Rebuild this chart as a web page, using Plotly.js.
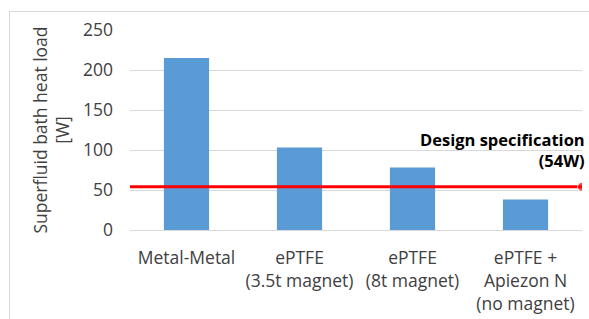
<!DOCTYPE html>
<html><head><meta charset="utf-8">
<script src="https://cdn.plot.ly/plotly-3.0.1.min.js"></script>
<style>html,body{margin:0;padding:0;background:#fff;overflow:hidden;}
#frame{position:absolute;left:9px;top:11px;width:590px;height:320px;border:1px solid #d9d9d9;box-sizing:border-box;}
#chart{position:absolute;left:0;top:0;width:589px;height:319px;}</style>
</head><body><div id="frame"></div><div id="chart"></div>
<script>
const categories = ["Metal-Metal", "ePTFE<br>(3.5t magnet)", "ePTFE<br>(8t magnet)", "ePTFE +<br>Apiezon N<br>(no magnet)"];
const heatLoad = [215, 103, 78, 38];
const specValue = 54;
const specLabel = "Design specification<br>(54W)";
const yTicks = [0, 50, 100, 150, 200, 250];

const font = {family: "Open Sans, sans-serif", size: 17.5, color: "#404040"};
const data = [
  {type: "bar", x: categories, y: heatLoad, marker: {color: "#5b9bd5"}, width: 0.4, hoverinfo: "skip"},
  {type: "scatter", x: [0, 1], y: [specValue, specValue], xaxis: "x2", mode: "lines+markers",
   line: {color: "#ff0000", width: 3}, marker: {color: "#ff0000", size: [0, 9]}, hoverinfo: "skip"}
];
const layout = {
  width: 589, height: 319, showlegend: false,
  paper_bgcolor: "rgba(0,0,0,0)", plot_bgcolor: "rgba(0,0,0,0)",
  margin: {l: 130, r: 7, t: 30, b: 89},
  font: font,
  xaxis: {type: "category", showgrid: false, showline: true, linecolor: "#d9d9d9", ticks: "", ticklabelstandoff: 12, tickfont: font, automargin: false, fixedrange: true},
  xaxis2: {overlaying: "x", range: [0, 1], visible: false, fixedrange: true},
  yaxis: {range: [0, 250], tickvals: yTicks, showgrid: true, gridcolor: "#d9d9d9", zeroline: false, ticks: "", ticklabelstandoff: 16,
          tickfont: font, automargin: false, fixedrange: true,
          title: {text: "Superfluid bath heat load<br>[W]", font: font, standoff: 8}},
  annotations: [{xref: "paper", yref: "paper", x: 1.012, y: 0.52, xanchor: "right", yanchor: "top", align: "right",
    text: "<b>" + specLabel + "</b>", showarrow: false, font: {family: font.family, size: 16.5, color: "#000"}}],
  bargap: 0.6
};
Plotly.newPlot("chart", data, layout, {staticPlot: true});
</script></body></html>
